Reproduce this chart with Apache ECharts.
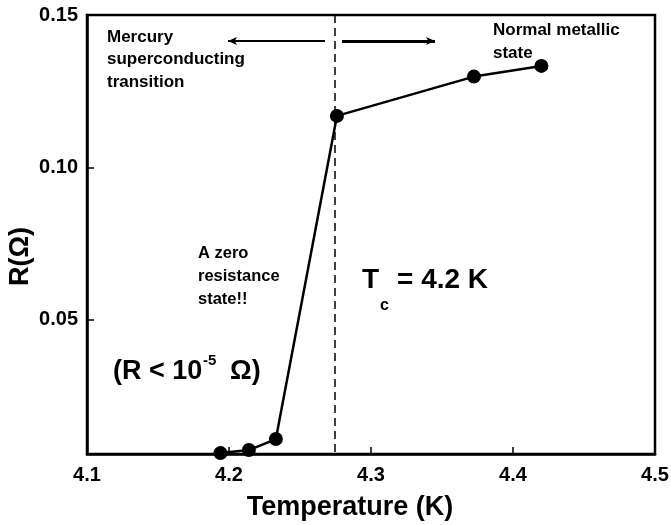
<!DOCTYPE html>
<html>
<head>
<meta charset="utf-8">
<script src="https://cdn.jsdelivr.net/npm/echarts@6/dist/echarts.min.js"></script>
<style>html,body{margin:0;padding:0;background:#fff;}#c{width:671px;height:525px;}</style>
</head>
<body>
<div id="c"></div>
<script>
// Data
var temperature = [4.194, 4.214, 4.233, 4.276, 4.3725, 4.420];
var resistance  = [0.0063, 0.0073, 0.0109, 0.1169, 0.1298, 0.1333];
var xTicks = [4.1, 4.2, 4.3, 4.4, 4.5];
var yTicks = [0.05, 0.10, 0.15];
var tcLine = 4.2746;
var arrowY = 0.1415;
var leftArrow = [4.2676, 4.1993];
var rightArrow = [4.2796, 4.3451];

var FONT = '"Liberation Sans", Arial, sans-serif';
var chart = echarts.init(document.getElementById('c'), null, {renderer: 'canvas'});

function txt(x, y, text, size, extra) {
  var s = {x: x, y: y, text: text, font: 'bold ' + size + 'px ' + FONT, fill: '#000',
           textAlign: 'left', textVerticalAlign: 'middle'};
  for (var k in (extra || {})) s[k] = extra[k];
  return {type: 'text', style: s, z: 100};
}

var option = {
  animation: false,
  backgroundColor: '#fff',
  grid: {left: 87, right: 16, top: 15, bottom: 71, show: true, borderColor: '#000', borderWidth: 2.5,
         containLabel: false, outerBoundsMode: 'none'},
  xAxis: {
    type: 'value', min: 4.1, max: 4.5, interval: 0.1,
    name: 'Temperature (K)', nameLocation: 'middle', nameGap: 40, nameMoveOverlap: false,
    nameTextStyle: {fontFamily: FONT, fontSize: 27, fontWeight: 'bold', color: '#000', padding: [0, 42, 0, 0]},
    axisLine: {show: true, onZero: false, lineStyle: {color: '#000', width: 2.5}},
    axisTick: {show: true, inside: true, length: 7, customValues: xTicks, lineStyle: {color: '#000', width: 1.5}},
    axisLabel: {fontFamily: FONT, fontSize: 20, fontWeight: 'bold', color: '#000', margin: 11,
                customValues: xTicks, formatter: function (v) { return v.toFixed(1); }},
    splitLine: {show: false}
  },
  yAxis: {
    type: 'value', min: 0.006, max: 0.15,
    name: 'R(\u03A9)', nameLocation: 'middle', nameGap: 53, nameMoveOverlap: false,
    nameTextStyle: {fontFamily: FONT, fontSize: 27, fontWeight: 'bold', color: '#000', padding: [0, 44, 0, 0]},
    axisLine: {show: true, onZero: false, lineStyle: {color: '#000', width: 2.5}},
    axisTick: {show: true, inside: true, length: 7, customValues: yTicks, lineStyle: {color: '#000', width: 1.5}},
    axisLabel: {fontFamily: FONT, fontSize: 20, fontWeight: 'bold', color: '#000', margin: 9,
                customValues: yTicks, formatter: function (v) { return v.toFixed(2); }},
    splitLine: {show: false}
  },
  series: [{
    type: 'line',
    data: temperature.map(function (t, i) { return [t, resistance[i]]; }),
    symbol: 'circle', symbolSize: 14,
    itemStyle: {color: '#000'},
    lineStyle: {color: '#000', width: 2.5},
    z: 5,
    markLine: {
      silent: true, animation: false,
      label: {show: false},
      data: [
        [{coord: [tcLine, 0.15], symbol: 'none', lineStyle: {type: [8, 5], width: 1.5, color: '#000'}},
         {coord: [tcLine, 0.006], symbol: 'none'}],
        [{coord: [leftArrow[0], arrowY], symbol: 'none', lineStyle: {type: 'solid', width: 2, color: '#000'}},
         {coord: [leftArrow[1], arrowY], symbol: 'arrow', symbolSize: [6, 9]}],
        [{coord: [rightArrow[0], arrowY], symbol: 'none', lineStyle: {type: 'solid', width: 3, color: '#000'}},
         {coord: [rightArrow[1], arrowY], symbol: 'arrow', symbolSize: [6, 9]}]
      ]
    }
  }],
  graphic: [
    txt(107, 26, 'Mercury\nsuperconducting\ntransition', 17, {textVerticalAlign: 'top', lineHeight: 22.5}),
    txt(493, 18.5, 'Normal metallic\nstate', 17, {textVerticalAlign: 'top', lineHeight: 23}),
    txt(198, 241.5, 'A zero\nresistance\nstate!!', 16.5, {textVerticalAlign: 'top', lineHeight: 23}),
    txt(362, 280, 'T', 28),
    txt(380, 306, 'c', 16),
    txt(397, 280, '= 4.2 K', 28),
    txt(113, 372, '(R < 10', 27),
    txt(203, 361, '-5', 15),
    txt(230, 372, '\u03A9)', 27)
  ]
};
chart.setOption(option);
</script>
</body>
</html>
